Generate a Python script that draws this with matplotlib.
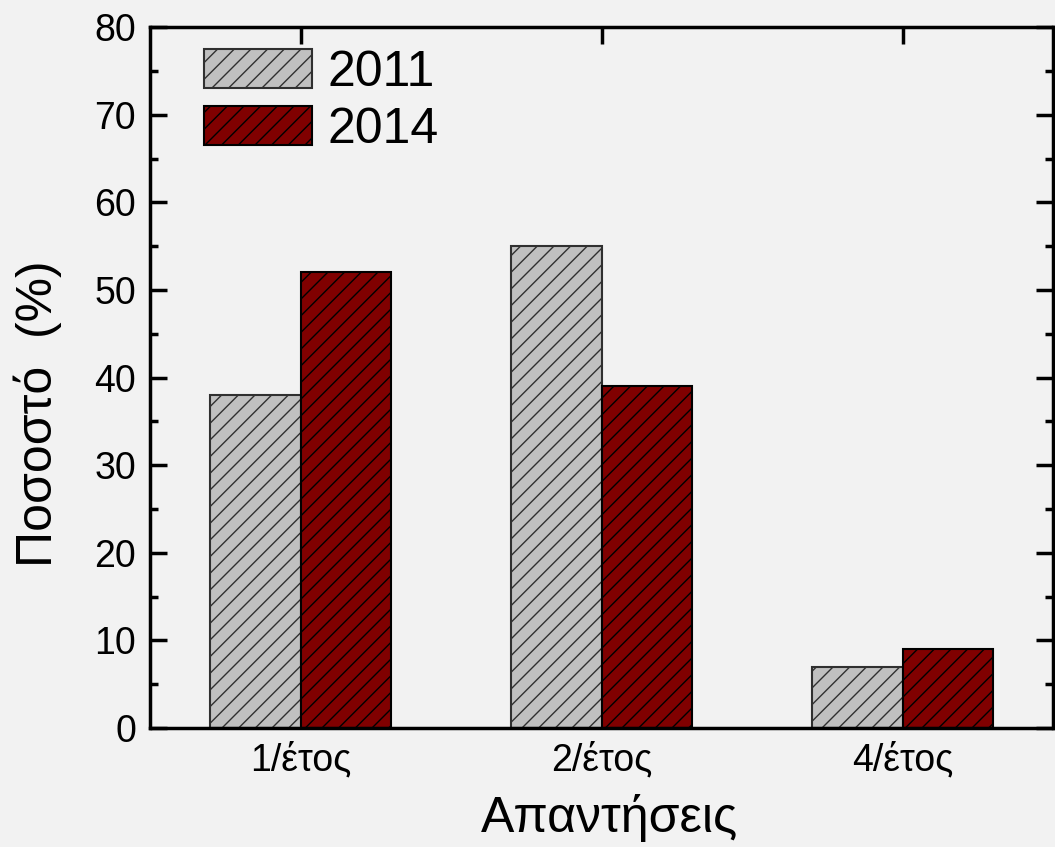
import matplotlib.pyplot as plt
import numpy as np
from matplotlib.ticker import MultipleLocator

# data
categories = ['1/έτος', '2/έτος', '4/έτος']
vals_2011 = [38, 55, 7]
vals_2014 = [52, 39, 9]

plt.rcParams['font.family'] = ['Liberation Sans', 'DejaVu Sans']
plt.rcParams['hatch.linewidth'] = 1.0

bg = '#f2f2f2'
fig = plt.figure(figsize=(10.55, 8.47), dpi=100, facecolor=bg)
ax = fig.add_axes([0.1422, 0.1405, 0.856, 0.8275], facecolor=bg)

x = np.arange(1, len(categories) + 1)
w = 0.3
ax.bar(x - w / 2, vals_2011, w, color='#c0c0c0', edgecolor='#303030',
       linewidth=1.5, hatch='//', label='2011', zorder=3)
ax.bar(x + w / 2, vals_2014, w, color='#800000', edgecolor='black',
       linewidth=1.5, hatch='//', label='2014', zorder=3)

ax.set_xlim(0.5, 3.5)
ax.set_ylim(0, 80)
ax.set_xticks(x)
ax.set_xticklabels(categories)
ax.yaxis.set_major_locator(MultipleLocator(10))
ax.yaxis.set_minor_locator(MultipleLocator(5))

ax.tick_params(axis='both', which='both', direction='in', width=2.5,
               top=True, right=True, labelsize=27, pad=10)
ax.tick_params(which='major', length=12)
ax.tick_params(which='minor', length=6)
ax.tick_params(axis='x', which='minor', bottom=False, top=False)
for s in ax.spines.values():
    s.set_linewidth(2.5)
    s.set_zorder(4)

ax.set_xlabel('Απαντήσεις', fontsize=36)
ax.set_ylabel('Ποσοστό  (%)', fontsize=36)
ax.xaxis.set_label_coords(0.509, -0.094)
ax.yaxis.set_label_coords(-0.097, 0.448)

leg = ax.legend(loc='upper left', bbox_to_anchor=(0.027, 1.012), frameon=False,
                fontsize=36, handlelength=2.16, handleheight=0.84,
                labelspacing=0.2, handletextpad=0.3, borderaxespad=0.2)

fig.savefig('out.png', dpi=100, facecolor=bg)
